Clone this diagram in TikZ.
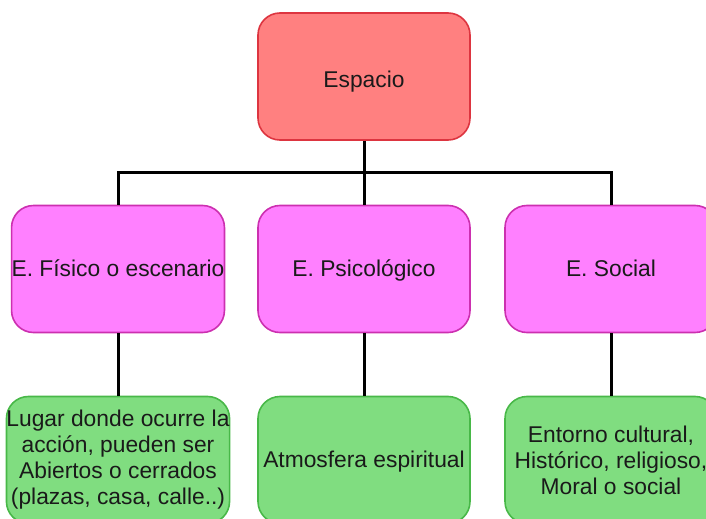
\documentclass[tikz,border=0pt]{standalone}
\usepackage{fontspec}
\setmainfont{Liberation Sans}
\usepackage{tikz}
\usetikzlibrary{positioning, calc}
\definecolor{rootfill}{HTML}{FF8080}
\definecolor{rootline}{HTML}{DD3540}
\definecolor{kindfill}{HTML}{FF80FF}
\definecolor{kindline}{HTML}{CC30B0}
\definecolor{descfill}{HTML}{80DD80}
\definecolor{descline}{HTML}{48B848}
\definecolor{txt}{HTML}{1A1A1A}
\tikzset{
    basebox/.style={rounded corners=22bp, line width=1.6bp, minimum width=212bp, minimum height=127bp, inner sep=0pt, align=center, text=txt, font=\fontsize{22.8bp}{26bp}\selectfont},
    oneline/.style={text height=20.5bp, text depth=4.6bp},
    rootbox/.style={basebox, draw=rootline, fill=rootfill, text height=26bp, text depth=4.6bp},
    kindbox/.style={basebox, draw=kindline, fill=kindfill, oneline},
    descbox/.style={basebox, draw=descline, fill=descfill},
    conn/.style={line width=3bp, black},
}

\begin{document}
\begin{tikzpicture}[x=1bp, y=-1bp]
\useasboundingbox (0,0) rectangle (706,519);

% root
\node[rootbox] (esp) at (364,76.5) {Espacio};

% kinds of space
\node[kindbox] (fisico) at (118,269) {E. Físico o escenario};
\node[kindbox] (psico) at (364,269) {E. Psicológico};
\node[kindbox] (social) at (611,269) {E. Social};

% descriptions
\node[descbox] (lugar) at (118,460) {\raisebox{9bp}{\begin{tabular}{@{}c@{}}Lugar donde ocurre la\\acción, pueden ser\\Abiertos o cerrados\\(plazas, casa, calle..)\end{tabular}}};
\node[descbox, oneline] (atmos) at (364,460) {Atmosfera espiritual};
\node[descbox] (entorno) at (611,460) {Entorno cultural,\\Histórico, religioso,\\Moral o social};

% connectors
\coordinate (bus) at (364,173);
\draw[conn] (esp.south) -- (psico.north);
\draw[conn] (fisico.north) |- (bus) -| (social.north);
\draw[conn] (fisico.south) -- (lugar.north);
\draw[conn] (psico.south) -- (atmos.north);
\draw[conn] (social.south) -- (entorno.north);

\end{tikzpicture}
\end{document}
